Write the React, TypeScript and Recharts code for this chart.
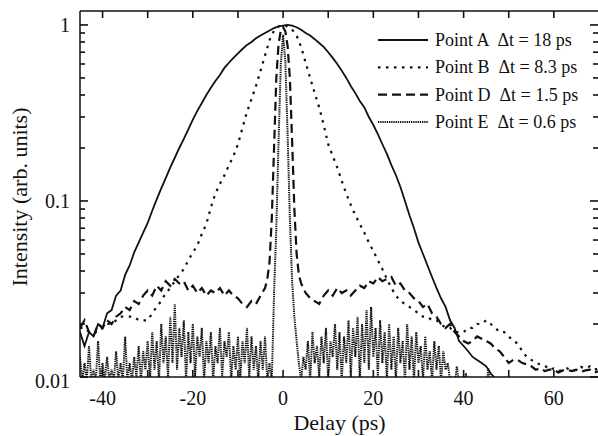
import { Legend, Line, LineChart, XAxis, YAxis } from "recharts";

const FONT = "'Liberation Serif', 'DejaVu Serif', 'Times New Roman', Times, serif";
const INK = "#111";

// plot frame in page pixels (chart sits at 0,0)
const PLOT = { left: 80, right: 599, top: 11, bottom: 377 };

const xTicks = [-40, -30, -20, -10, 0, 10, 20, 30, 40, 50, 60];
const xLabelled = [-40, -20, 0, 20, 40, 60];
const yTicks = [
  0.01, 0.02, 0.03, 0.04, 0.05, 0.06, 0.07, 0.08, 0.09,
  0.1, 0.2, 0.3, 0.4, 0.5, 0.6, 0.7, 0.8, 0.9, 1,
];
const yLabelled = [0.01, 0.1, 1];

// Point A, solid, delays -45..50 step 1
const aValues = [
  0.018, 0.015, 0.018, 0.017, 0.02, 0.019, 0.023, 0.024, 0.029, 0.031,
  0.038, 0.043, 0.051, 0.058, 0.066, 0.075, 0.088, 0.102, 0.118, 0.135,
  0.155, 0.176, 0.2, 0.225, 0.255, 0.29, 0.325, 0.36, 0.4, 0.44,
  0.48, 0.52, 0.57, 0.61, 0.65, 0.69, 0.73, 0.77, 0.8, 0.84,
  0.87, 0.9, 0.93, 0.96, 0.98, 0.99, 1.0, 0.99, 0.97, 0.94,
  0.9, 0.87, 0.83, 0.79, 0.75, 0.7, 0.65, 0.6, 0.55, 0.5,
  0.45, 0.41, 0.37, 0.34, 0.3, 0.27, 0.24, 0.21, 0.185, 0.16,
  0.14, 0.12, 0.1, 0.083, 0.07, 0.058, 0.05, 0.043, 0.037, 0.032,
  0.028, 0.025, 0.021, 0.019, 0.016, 0.015, 0.014, 0.013, 0.0125, 0.012,
  0.0115, 0.0105, 0.0098, 0.0095, 0.0095, 0.0095,
];

// Point B, dotted, delays -45..70 step 1
const bValues = [
  0.019, 0.019, 0.018, 0.018, 0.018, 0.019, 0.02, 0.02, 0.021, 0.022,
  0.022, 0.022, 0.022, 0.021, 0.021, 0.021, 0.023, 0.025, 0.027, 0.03,
  0.032, 0.035, 0.038, 0.041, 0.046, 0.051, 0.056, 0.065, 0.074, 0.092,
  0.11, 0.125, 0.14, 0.16, 0.18, 0.21, 0.26, 0.32, 0.38, 0.45,
  0.55, 0.67, 0.82, 0.93, 0.98, 1.0, 0.98, 0.94, 0.87, 0.75,
  0.61, 0.5, 0.41, 0.34, 0.27, 0.21, 0.18, 0.155, 0.13, 0.11,
  0.095, 0.083, 0.074, 0.066, 0.058, 0.052, 0.046, 0.041, 0.036, 0.032,
  0.029, 0.027, 0.026, 0.025, 0.024, 0.023, 0.022, 0.022, 0.021, 0.021,
  0.02, 0.019, 0.019, 0.018, 0.018, 0.018, 0.019, 0.019, 0.02, 0.02,
  0.021, 0.02, 0.019, 0.018, 0.018, 0.017, 0.016, 0.0155, 0.014, 0.013,
  0.0125, 0.012, 0.0118, 0.0116, 0.011, 0.0112, 0.0108, 0.011, 0.0112, 0.0108,
  0.011, 0.0114, 0.0112, 0.0115, 0.011, 0.0112,
];

// Point D, dashed: background -45..-4, peak -3.5..3.5 (0.5), background 4..70
const dLeft = [
  0.019, 0.021, 0.018, 0.017, 0.02, 0.019, 0.021, 0.02, 0.022, 0.023,
  0.025, 0.024, 0.027, 0.026, 0.029, 0.031, 0.029, 0.033, 0.031, 0.035,
  0.033, 0.036, 0.034, 0.035, 0.031, 0.033, 0.03, 0.032, 0.029, 0.031,
  0.03, 0.032, 0.029, 0.031, 0.029, 0.028, 0.026, 0.025, 0.027, 0.026,
  0.029, 0.032,
];
const dPeak = [
  0.036, 0.045, 0.08, 0.2, 0.5, 0.78, 0.93, 0.97, 0.92, 0.76, 0.5, 0.22, 0.09, 0.05, 0.038,
];
const dRight = [
  0.034, 0.03, 0.028, 0.027, 0.026, 0.029, 0.031, 0.029, 0.032, 0.03,
  0.031, 0.029, 0.031, 0.033, 0.032, 0.035, 0.034, 0.037, 0.035, 0.036,
  0.037, 0.033, 0.034, 0.031, 0.03, 0.028, 0.027, 0.025, 0.026, 0.023,
  0.022, 0.02, 0.019, 0.02, 0.018, 0.017, 0.016, 0.0155, 0.016, 0.017,
  0.0165, 0.016, 0.0155, 0.0145, 0.014, 0.013, 0.012, 0.0125, 0.0125, 0.012,
  0.0118, 0.0115, 0.011, 0.0112, 0.0108, 0.011, 0.011, 0.0106, 0.0109, 0.011,
  0.0108, 0.011, 0.0107, 0.0109, 0.011, 0.0106, 0.0108,
];

// Point E, fine dots, step 0.5: -45..-2.5, -2..3.5, 4..37, 37.5..48
const eLeft = [
  0.013, 0.0095, 0.012, 0.0095, 0.015, 0.0095, 0.011, 0.0095, 0.016, 0.0095, 0.012,
  0.0095, 0.013, 0.0095, 0.011, 0.0095, 0.014, 0.0095, 0.012, 0.0095, 0.017,
  0.0095, 0.012, 0.0095, 0.013, 0.01, 0.015, 0.0095, 0.014, 0.011, 0.016,
  0.0095, 0.018, 0.011, 0.016, 0.0095, 0.02, 0.012, 0.017, 0.01, 0.022,
  0.012, 0.026, 0.011, 0.019, 0.013, 0.021, 0.0095, 0.018, 0.012, 0.02,
  0.01, 0.017, 0.013, 0.019, 0.0095, 0.016, 0.012, 0.018, 0.0095, 0.015,
  0.012, 0.019, 0.01, 0.016, 0.013, 0.018, 0.0095, 0.015, 0.011, 0.017,
  0.0095, 0.016, 0.012, 0.019, 0.01, 0.017, 0.011, 0.015, 0.0095, 0.016,
  0.011, 0.017, 0.0095, 0.012, 0.0095,
];
const ePeak = [0.03, 0.07, 0.22, 0.6, 0.88, 0.62, 0.24, 0.08, 0.035, 0.022, 0.016, 0.012];
const eRight = [
  0.0095, 0.013, 0.011, 0.016, 0.0095, 0.018, 0.012, 0.015, 0.01, 0.017,
  0.012, 0.019, 0.0095, 0.016, 0.013, 0.02, 0.011, 0.018, 0.0095, 0.017,
  0.012, 0.021, 0.01, 0.019, 0.013, 0.022, 0.0095, 0.02, 0.012, 0.024,
  0.011, 0.025, 0.013, 0.019, 0.01, 0.021, 0.012, 0.018, 0.0095, 0.02,
  0.011, 0.017, 0.0095, 0.019, 0.012, 0.016, 0.0095, 0.02, 0.011, 0.017,
  0.0095, 0.018, 0.012, 0.015, 0.0095, 0.017, 0.011, 0.014, 0.0095, 0.016,
  0.011, 0.015, 0.0095, 0.014, 0.011, 0.012, 0.0095,
];
const eTail = [
  0.009, 0.009, 0.0115, 0.009, 0.009, 0.009, 0.0105, 0.009, 0.009, 0.009, 0.009,
  0.009, 0.009, 0.009, 0.009, 0.009, 0.0112, 0.009, 0.009, 0.009, 0.009, 0.009,
];

const sampled = (start: number, step: number, values: number[]) =>
  values.map((value, i) => ({ delay: start + i * step, value }));

const aData = sampled(-45, 1, aValues);
const bData = sampled(-45, 1, bValues);
const dData = [...sampled(-45, 1, dLeft), ...sampled(-3.5, 0.5, dPeak), ...sampled(4, 1, dRight)];
const eData = [
  ...sampled(-45, 0.5, eLeft),
  ...sampled(-2, 0.5, ePeak),
  ...sampled(4, 0.5, eRight),
  ...sampled(37.5, 0.5, eTail),
];

const series = [
  { key: "A", label: "Point A  \u0394t = 18 ps", data: aData, dash: undefined, width: 1.8 },
  { key: "B", label: "Point B  \u0394t = 8.3 ps", data: bData, dash: "2.5 5.5", width: 2.2 },
  { key: "D", label: "Point D  \u0394t = 1.5 ps", data: dData, dash: "9 5", width: 2.2 },
  { key: "E", label: "Point E  \u0394t = 0.6 ps", data: eData, dash: "1.3 0.9", width: 2 },
];

const textStyle = { fontFamily: FONT, fill: INK };

// bottom ticks also draw their mirrored twin on the top frame
function XTick(props: any) {
  const { x, payload } = props;
  const v = payload.value;
  return (
    <g>
      <line x1={x} x2={x} y1={PLOT.bottom} y2={PLOT.bottom - 7} stroke={INK} strokeWidth={1.6} />
      <line x1={x} x2={x} y1={PLOT.top} y2={PLOT.top + 7} stroke={INK} strokeWidth={1.6} />
      {xLabelled.includes(v) && (
        <text x={x} y={405} textAnchor="middle" fontSize={20} style={textStyle}>
          {v}
        </text>
      )}
    </g>
  );
}

// left ticks also draw their mirrored twin on the right frame
function YTick(props: any) {
  const { y, payload } = props;
  const major = yLabelled.includes(payload.value);
  const len = major ? 8 : 5;
  const dy = payload.value === 0.01 ? 11 : 7;
  return (
    <g>
      <line x1={PLOT.left} x2={PLOT.left + len} y1={y} y2={y} stroke={INK} strokeWidth={1.6} />
      <line x1={PLOT.right} x2={PLOT.right - len - 1} y1={y} y2={y} stroke={INK} strokeWidth={1.6} />
      {major && (
        <text x={70} y={y + dy} textAnchor="end" fontSize={20} style={textStyle}>
          {String(payload.value)}
        </text>
      )}
    </g>
  );
}

function XTitle() {
  return (
    <text x={(PLOT.left + PLOT.right) / 2} y={430} textAnchor="middle" fontSize={22} style={textStyle}>
      Delay (ps)
    </text>
  );
}

function YTitle() {
  return (
    <text x={27} y={197} transform="rotate(-90 27 197)" textAnchor="middle" fontSize={22} style={textStyle}>
      Intensity (arb. units)
    </text>
  );
}

function LegendBox() {
  return (
    <svg width={222} height={112} style={{ display: "block" }}>
      {series.map((s, i) => {
        const cy = 14 + i * 27.3;
        return (
          <g key={s.key}>
            <line x1={2} x2={52} y1={cy} y2={cy} stroke={INK} strokeWidth={s.width} strokeDasharray={s.dash} />
            <text x={59} y={cy + 6} fontSize={18} style={{ ...textStyle, whiteSpace: "pre" }}>
              {s.label}
            </text>
          </g>
        );
      })}
    </svg>
  );
}

export default function App() {
  const drawOrder = [...series].reverse();
  return (
    <div style={{ width: 598, height: 436, overflow: "hidden", background: "#fff", fontFamily: FONT }}>
      <style>{"body{margin:0}"}</style>
      <LineChart width={600} height={436} margin={{ top: 10, right: 0, bottom: 0, left: 0 }}>
        <XAxis
          xAxisId="bottom"
          dataKey="delay"
          type="number"
          domain={[-45, 70]}
          allowDataOverflow
          ticks={xTicks}
          interval={0}
          height={59}
          axisLine={{ stroke: INK, strokeWidth: 1.5 }}
          tickLine={false}
          tick={<XTick />}
          label={<XTitle />}
        />
        <XAxis
          xAxisId="top"
          orientation="top"
          type="number"
          domain={[-45, 70]}
          height={1}
          axisLine={{ stroke: INK, strokeWidth: 1.5 }}
          tickLine={false}
          tick={false}
        />
        <YAxis
          yAxisId="left"
          scale="log"
          type="number"
          domain={[0.01, 1.2]}
          allowDataOverflow
          ticks={yTicks}
          interval={0}
          width={80}
          axisLine={{ stroke: INK, strokeWidth: 1.5 }}
          tickLine={false}
          tick={<YTick />}
          label={<YTitle />}
        />
        <YAxis
          yAxisId="right"
          orientation="right"
          type="number"
          domain={[0, 1]}
          width={1}
          axisLine={{ stroke: INK, strokeWidth: 1.5 }}
          tickLine={false}
          tick={false}
        />
        <Legend
          layout="horizontal"
          verticalAlign="middle"
          align="center"
          content={<LegendBox />}
          wrapperStyle={{ left: 376, top: 26, width: 222, height: 112 }}
        />
        {drawOrder.map((s) => (
          <Line
            key={s.key}
            data={s.data}
            dataKey="value"
            name={s.label}
            xAxisId="bottom"
            yAxisId="left"
            type="linear"
            stroke={INK}
            strokeWidth={s.width}
            strokeDasharray={s.dash}
            dot={false}
            activeDot={false}
            isAnimationActive={false}
          />
        ))}
      </LineChart>
    </div>
  );
}
